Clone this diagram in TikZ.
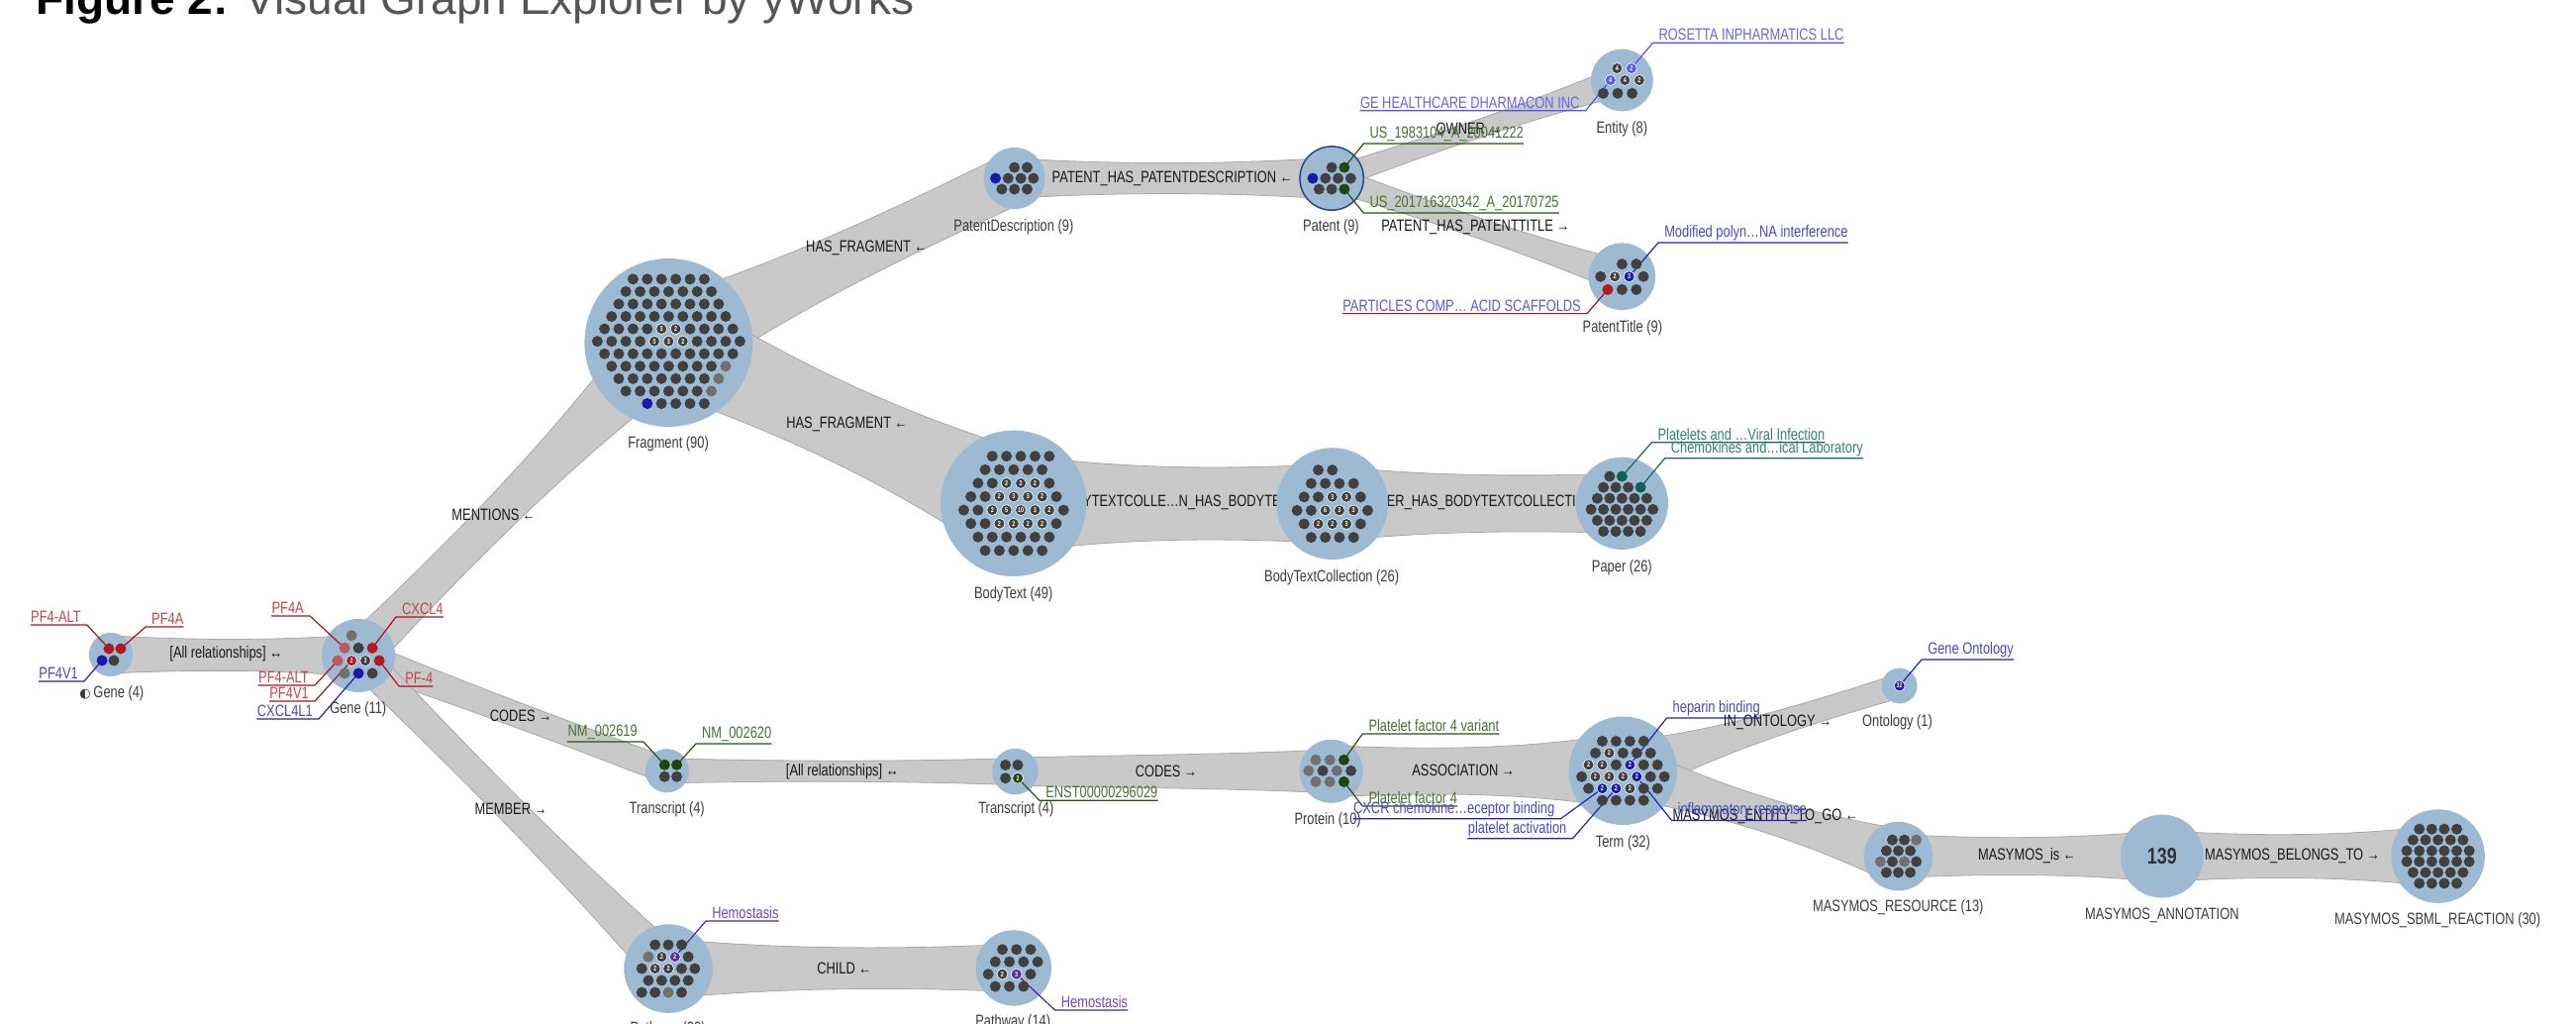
\documentclass[tikz,border=0pt]{standalone}
\usepackage{fontspec}
\setmainfont{Liberation Sans}[FakeStretch=0.78]
\newfontfamily\titlefont{Liberation Sans}
\newfontfamily\symfont{DejaVu Sans}
\usetikzlibrary{calc}
\pgfdeclarelayer{bandlayer}
\pgfdeclarelayer{circlelayer}
\pgfdeclarelayer{linelayer}
\pgfsetlayers{bandlayer,circlelayer,linelayer,main}

\definecolor{nodeblue}{RGB}{157,186,210}
\definecolor{bandgray}{RGB}{201,201,201}
\definecolor{bandedge}{RGB}{168,168,168}
\definecolor{patentedge}{RGB}{40,72,140}
\definecolor{dotdark}{RGB}{64,64,64}
\definecolor{dotgray}{RGB}{112,112,112}
\definecolor{dotred}{RGB}{178,24,28}
\definecolor{dotlred}{RGB}{186,88,92}
\definecolor{dotblue}{RGB}{26,26,170}
\definecolor{dotlblue}{RGB}{92,92,240}
\definecolor{dotgreen}{RGB}{30,70,14}
\definecolor{dotteal}{RGB}{14,96,90}
\definecolor{dotpurple}{RGB}{92,46,166}
\definecolor{redtxt}{RGB}{196,70,74}
\definecolor{redln}{RGB}{168,22,28}
\definecolor{bluetxt}{RGB}{72,72,200}
\definecolor{blueln}{RGB}{35,35,176}
\definecolor{violettxt}{RGB}{96,90,210}
\definecolor{lbtxt}{RGB}{100,100,240}
\definecolor{lbln}{RGB}{82,82,232}
\definecolor{greentxt}{RGB}{74,112,50}
\definecolor{greenln}{RGB}{40,80,20}
\definecolor{tealtxt}{RGB}{50,130,120}
\definecolor{tealln}{RGB}{20,105,95}
\definecolor{purptxt}{RGB}{112,74,190}
\definecolor{purpln}{RGB}{80,36,150}
\definecolor{labeltxt}{RGB}{60,60,60}
\definecolor{edgetxt}{RGB}{25,25,25}
\definecolor{titlegray}{RGB}{85,85,85}

\tikzset{
  nodecirc/.style={circle,fill=nodeblue,inner sep=0pt,minimum size=#1*3.3188pt},
  band/.style={fill=bandgray,draw=bandedge,line width=0.8pt},
  dot/.style={circle,inner sep=0pt,minimum size=11pt,text=white,
    font=\fontsize{7}{7}\selectfont\bfseries},
  dk/.style={fill=dotdark},
  gy/.style={fill=dotgray},
  rd/.style={fill=dotred},
  lr/.style={fill=dotlred},
  bl/.style={fill=dotblue},
  lb/.style={fill=dotlblue},
  gn/.style={fill=dotgreen},
  tl/.style={fill=dotteal},
  nk/.style={fill=dotdark,draw=white,line width=0.6pt},
  nr/.style={fill=dotred,draw=white,line width=0.6pt},
  nb/.style={fill=dotblue,draw=white,line width=0.6pt},
  nlb/.style={fill=dotlblue,draw=white,line width=0.6pt},
  ng/.style={fill=dotgreen,draw=white,line width=0.6pt},
  np/.style={fill=dotpurple,draw=white,line width=0.6pt},
  nlabel/.style={font=\fontsize{16.5}{16.5}\selectfont,text=labeltxt,inner sep=0pt},
  elabel/.style={font=\fontsize{16.5}{16.5}\selectfont,text=edgetxt,inner sep=0pt},
  calltext/.style={font=\fontsize{16.5}{16.5}\selectfont,inner xsep=0pt,inner ysep=2pt},
  callline/.style={line width=1.2pt,line join=round},
  toright/.style={anchor=south west,xshift=6pt},
  toleft/.style={anchor=south east,xshift=-6pt},
}

% one row of small member dots inside a type circle
\newcommand\dotrow[6]{%
  \foreach \s/\l [count=\i] in {#6} {
    \node[dot,\s] (#1\i) at ($(#2.center)+({(#4+\i-1)*#5},#3)$) {\l};
  }%
}

% grey relationship band with a waist between two type circles
\newcommand\band[5]{%
  \pgfmathsetmacro\bandctl{max(0,(#5-(#3+#4)/8)/0.75)}%
  \path[band]
    ($(#1)!#3pt!90:(#2)$)
    .. controls ($($(#1)!0.333!(#2)$)!\bandctl pt!90:(#2)$)
           and ($($(#1)!0.667!(#2)$)!\bandctl pt!90:(#2)$)
    .. ($(#2)!#4pt!-90:(#1)$)
    -- ($(#2)!#4pt!90:(#1)$)
    .. controls ($($(#1)!0.667!(#2)$)!\bandctl pt!-90:(#2)$)
           and ($($(#1)!0.333!(#2)$)!\bandctl pt!-90:(#2)$)
    .. ($(#1)!#3pt!-90:(#2)$)
    -- cycle;
}

% underlined label with a leader line to a member dot
\newcommand\callout[7]{%
  \coordinate (#5-bend) at #4;
  \node[calltext,text=#1,#6] (#5) at (#5-bend) {#7};
  \begin{pgfonlayer}{linelayer}
    \draw[callline,draw=#2] (#3.center) -- (#5-bend) -- (#5.south west) -- (#5.south east);
  \end{pgfonlayer}
}

\begin{document}
\begin{tikzpicture}[x=1.6594pt,y=-1.6594pt]
\useasboundingbox (0,0) rectangle (1568,623);
\begin{pgfonlayer}{bandlayer}
  \fill[white] (0,0) rectangle (1568,623);
\end{pgfonlayer}

% title
\node[anchor=base west,inner sep=0pt,font=\titlefont\fontsize{46}{46}\selectfont] (title)
  at (21.7,9) {\textbf{Figure 2:} \textcolor{titlegray}{Visual Graph Explorer by yWorks}};

% type circles
\begin{pgfonlayer}{circlelayer}
\node[nodecirc=13.3] (g4) at (67.5,398.3) {};
\node[nodecirc=22.3] (g11) at (218.2,398.9) {};
\node[nodecirc=51.2] (frag) at (407,208.5) {};
\node[nodecirc=18.7] (pdesc) at (617.5,108.5) {};
\node[nodecirc=19.4,draw=patentedge,line width=1.5pt] (pat) at (810.6,108.5) {};
\node[nodecirc=18.9] (ent) at (987.3,48.8) {};
\node[nodecirc=20.4] (ptit) at (987.3,168.3) {};
\node[nodecirc=44.4] (body) at (617,306.3) {};
\node[nodecirc=34] (coll) at (811,306.5) {};
\node[nodecirc=28.1] (paper) at (987.3,306.3) {};
\node[nodecirc=13.3] (trA) at (406,469) {};
\node[nodecirc=14] (trB) at (618,469.5) {};
\node[nodecirc=19.3] (prot) at (810.3,469.3) {};
\node[nodecirc=33] (term) at (987.9,469) {};
\node[nodecirc=10.8] (onto) at (1156.2,417.3) {};
\node[nodecirc=21] (mres) at (1155.5,521) {};
\node[nodecirc=25.3,text=black!80,font=\fontsize{23}{23}\selectfont\bfseries] (mann) at (1316,521) {139};
\node[nodecirc=28.5] (sbml) at (1484,521) {};
\node[nodecirc=27] (pwL) at (406.8,589.4) {};
\node[nodecirc=23] (pwR) at (617,589) {};
\end{pgfonlayer}

% type labels
\node[nlabel] (l-g4) at (68,422) {{\symfont\fontsize{13}{13}\selectfont ◐}\,Gene (4)};
\node[nlabel] (l-g11) at (218,431.9) {Gene (11)};
\node[nlabel] (l-frag) at (406.8,270.2) {Fragment (90)};
\node[nlabel] (l-pdesc) at (617,138.2) {PatentDescription (9)};
\node[nlabel] (l-pat) at (810.2,138.2) {Patent (9)};
\node[nlabel] (l-ent) at (987.3,78.3) {Entity (8)};
\node[nlabel] (l-ptit) at (987.6,199.5) {PatentTitle (9)};
\node[nlabel] (l-body) at (616.9,361.6) {BodyText (49)};
\node[nlabel] (l-coll) at (810.6,351.5) {BodyTextCollection (26)};
\node[nlabel] (l-paper) at (987.3,345.5) {Paper (26)};
\node[nlabel] (l-trA) at (406,492.5) {Transcript (4)};
\node[nlabel] (l-trB) at (618.5,492.5) {Transcript (4)};
\node[nlabel] (l-prot) at (808.2,499.2) {Protein (10)};
\node[nlabel] (l-term) at (987.9,513.2) {Term (32)};
\node[nlabel] (l-onto) at (1154.9,439.5) {Ontology (1)};
\node[nlabel] (l-mres) at (1155.4,552.4) {MASYMOS\_RESOURCE (13)};
\node[nlabel] (l-mann) at (1316,556.8) {MASYMOS\_ANNOTATION};
\node[nlabel] (l-sbml) at (1483.7,560) {MASYMOS\_SBML\_REACTION (30)};
\node[nlabel] (l-pwR) at (616.6,622.3) {Pathway (14)};
\node[nlabel] (l-pwL) at (406.5,626.5) {Pathway (20)};

% member dots
\dotrow{g4a}{g4}{-3.6}{-0.17}{7.2}{rd/{},rd/{}}
\dotrow{g4b}{g4}{3.6}{-0.75}{7.2}{bl/{},dk/{}}

\dotrow{g11a}{g11}{-12.2}{-0.5}{8.44}{gy/{}}
\dotrow{g11b}{g11}{-4.6}{-1}{8.44}{lr/{},dk/{},rd/{}}
\dotrow{g11c}{g11}{3.1}{-1.5}{8.44}{lr/{},nr/2,nk/3,rd/{}}
\dotrow{g11d}{g11}{10.8}{-1}{8.44}{gy/{},bl/{},dk/{}}

\dotrow{fra}{frag}{-38.65}{-2.5}{8.68}{dk/{},dk/{},dk/{},dk/{},dk/{},dk/{}}
\dotrow{frb}{frag}{-31.08}{-3}{8.68}{dk/{},dk/{},dk/{},dk/{},dk/{},dk/{},dk/{}}
\dotrow{frc}{frag}{-23.51}{-3.5}{8.68}{dk/{},dk/{},dk/{},dk/{},dk/{},dk/{},dk/{},dk/{}}
\dotrow{frd}{frag}{-15.94}{-4}{8.68}{dk/{},dk/{},dk/{},dk/{},dk/{},dk/{},dk/{},dk/{},dk/{}}
\dotrow{fre}{frag}{-8.37}{-4.5}{8.68}{dk/{},dk/{},dk/{},dk/{},nk/3,nk/2,dk/{},dk/{},dk/{},dk/{}}
\dotrow{frf}{frag}{-0.8}{-5}{8.68}{dk/{},dk/{},dk/{},dk/{},nk/3,nk/3,nk/2,dk/{},dk/{},dk/{},dk/{}}
\dotrow{frg}{frag}{6.77}{-4.5}{8.68}{dk/{},dk/{},dk/{},dk/{},dk/{},dk/{},dk/{},dk/{},dk/{},dk/{}}
\dotrow{frh}{frag}{14.34}{-4}{8.68}{dk/{},dk/{},dk/{},dk/{},dk/{},dk/{},dk/{},dk/{},gy/{}}
\dotrow{fri}{frag}{21.91}{-3.5}{8.68}{dk/{},dk/{},dk/{},dk/{},dk/{},dk/{},dk/{},gy/{}}
\dotrow{frj}{frag}{29.48}{-3}{8.68}{dk/{},dk/{},dk/{},dk/{},dk/{},dk/{},gy/{}}
\dotrow{frk}{frag}{37.05}{-1.5}{8.68}{bl/{},dk/{},dk/{},dk/{},dk/{}}

\dotrow{pda}{pdesc}{-6.6}{0}{7.7}{dk/{},dk/{}}
\dotrow{pdb}{pdesc}{0}{-1.5}{7.7}{bl/{},dk/{},dk/{},dk/{}}
\dotrow{pdc}{pdesc}{6.6}{-1}{7.7}{dk/{},dk/{},dk/{}}

\dotrow{pata}{pat}{-6.6}{0}{7.7}{dk/{},gn/{}}
\dotrow{patb}{pat}{0}{-1.5}{7.7}{bl/{},dk/{},dk/{},dk/{}}
\dotrow{patc}{pat}{6.6}{-1}{7.7}{dk/{},dk/{},gn/{}}

\dotrow{enta}{ent}{-7.2}{-0.35}{8.8}{nk/4,nlb/2}
\dotrow{entb}{ent}{0}{-0.8}{8.8}{nlb/4,nk/4,nk/2}
\dotrow{entc}{ent}{8}{-1.3}{8.8}{dk/{},dk/{},dk/{}}

\dotrow{pta}{ptit}{-7.6}{0}{8.7}{dk/{},dk/{}}
\dotrow{ptb}{ptit}{0}{-1.5}{8.7}{dk/{},nk/2,nb/3,dk/{}}
\dotrow{ptc}{ptit}{7.9}{-1}{8.7}{rd/{},dk/{},dk/{}}

\dotrow{bta}{body}{-28.7}{-1.5}{8.68}{dk/{},dk/{},dk/{},dk/{},dk/{}}
\dotrow{btb}{body}{-20.5}{-2}{8.68}{dk/{},dk/{},dk/{},dk/{},dk/{}}
\dotrow{btc}{body}{-12.3}{-2.5}{8.68}{dk/{},dk/{},nk/2,nk/2,nk/2,dk/{}}
\dotrow{btd}{body}{-4.1}{-3}{8.68}{dk/{},dk/{},nk/2,nk/3,nk/3,nk/2,dk/{}}
\dotrow{bte}{body}{4.1}{-3.5}{8.68}{dk/{},dk/{},nk/2,nk/5,nk/10,nk/3,nk/2,dk/{}}
\dotrow{btf}{body}{12.3}{-3}{8.68}{dk/{},dk/{},nk/2,nk/2,nk/2,nk/2,dk/{}}
\dotrow{btg}{body}{20.5}{-2.5}{8.68}{dk/{},dk/{},dk/{},dk/{},dk/{},dk/{}}
\dotrow{bth}{body}{28.7}{-2}{8.68}{dk/{},dk/{},dk/{},dk/{},dk/{}}

\dotrow{cla}{coll}{-20.5}{-1}{8.6}{dk/{},dk/{}}
\dotrow{clb}{coll}{-12.3}{-1.5}{8.6}{dk/{},dk/{},dk/{},dk/{}}
\dotrow{clc}{coll}{-4.1}{-2}{8.6}{dk/{},dk/{},nk/3,nk/3,dk/{}}
\dotrow{cld}{coll}{4.1}{-2.5}{8.6}{dk/{},dk/{},nk/6,nk/3,nk/3,dk/{}}
\dotrow{cle}{coll}{12.3}{-2}{8.6}{dk/{},nk/2,nk/2,nk/3,dk/{}}
\dotrow{clf}{coll}{20.5}{-1.5}{8.6}{dk/{},dk/{},dk/{},dk/{}}

\dotrow{ppa}{paper}{-16.45}{-1}{7.53}{dk/{},tl/{}}
\dotrow{ppb}{paper}{-9.75}{-1.5}{7.53}{dk/{},dk/{},dk/{},tl/{}}
\dotrow{ppc}{paper}{-3.05}{-2}{7.53}{dk/{},dk/{},dk/{},dk/{},dk/{}}
\dotrow{ppd}{paper}{3.65}{-2.5}{7.53}{dk/{},dk/{},dk/{},dk/{},dk/{},dk/{}}
\dotrow{ppe}{paper}{10.35}{-2}{7.53}{dk/{},dk/{},dk/{},dk/{},dk/{}}
\dotrow{ppf}{paper}{17.05}{-1.5}{7.53}{dk/{},dk/{},dk/{},dk/{}}

\dotrow{xa}{trA}{-3.6}{-0.2}{7.4}{gn/{},gn/{}}
\dotrow{xb}{trA}{3.6}{-0.2}{7.4}{dk/{},dk/{}}

\dotrow{ya}{trB}{-4}{-0.8}{7.5}{dk/{},dk/{}}
\dotrow{yb}{trB}{4}{-0.8}{7.5}{dk/{},ng/2}

\dotrow{pra}{prot}{-6.9}{-1.1}{8.6}{gy/{},gy/{},gn/{}}
\dotrow{prb}{prot}{-0.3}{-1.6}{8.6}{gy/{},dk/{},gy/{},dk/{}}
\dotrow{prc}{prot}{6.4}{-1.1}{8.6}{gy/{},gy/{},gn/{}}

\dotrow{tma}{term}{-18}{-1.5}{8.4}{dk/{},dk/{},dk/{},dk/{}}
\dotrow{tmb}{term}{-10.8}{-2}{8.4}{dk/{},nk/2,dk/{},dk/{},dk/{}}
\dotrow{tmc}{term}{-3.6}{-2.5}{8.4}{nk/2,nk/2,dk/{},nb/2,dk/{},dk/{}}
\dotrow{tmd}{term}{3.6}{-3}{8.4}{dk/{},nk/2,nk/2,nk/2,nb/2,dk/{},dk/{}}
\dotrow{tme}{term}{10.8}{-2.5}{8.4}{dk/{},nb/2,nb/2,nk/2,dk/{},dk/{}}
\dotrow{tmf}{term}{18}{-1.5}{8.4}{dk/{},dk/{},dk/{},dk/{}}

\dotrow{ona}{onto}{0}{0}{1}{nb/32}

\dotrow{mra}{mres}{-9.9}{-0.5}{7.3}{dk/{},dk/{},gy/{}}
\dotrow{mrb}{mres}{-3.3}{-1}{7.3}{dk/{},dk/{},dk/{}}
\dotrow{mrc}{mres}{3.3}{-1.5}{7.3}{gy/{},dk/{},gy/{},dk/{}}
\dotrow{mrd}{mres}{9.9}{-1}{7.3}{dk/{},dk/{},dk/{}}

\dotrow{sba}{sbml}{-16.5}{-1.5}{7.6}{dk/{},dk/{},dk/{},dk/{}}
\dotrow{sbb}{sbml}{-9.9}{-2}{7.6}{dk/{},dk/{},dk/{},dk/{},dk/{}}
\dotrow{sbc}{sbml}{-3.3}{-2.5}{7.6}{dk/{},dk/{},dk/{},dk/{},dk/{},dk/{}}
\dotrow{sbd}{sbml}{3.3}{-2.5}{7.6}{dk/{},dk/{},dk/{},dk/{},dk/{},dk/{}}
\dotrow{sbe}{sbml}{9.9}{-2}{7.6}{dk/{},dk/{},dk/{},dk/{},dk/{}}
\dotrow{sbf}{sbml}{16.5}{-1.5}{7.6}{dk/{},dk/{},dk/{},dk/{}}

\dotrow{pla}{pwL}{-14.5}{-1}{8.07}{dk/{},dk/{},dk/{}}
\dotrow{plb}{pwL}{-7.2}{-1.5}{8.07}{gy/{},nk/2,np/2,dk/{}}
\dotrow{plc}{pwL}{0}{-2}{8.07}{dk/{},nk/2,nk/2,dk/{},dk/{}}
\dotrow{pld}{pwL}{7.2}{-1.5}{8.07}{dk/{},dk/{},dk/{},dk/{}}
\dotrow{ple}{pwL}{14.5}{-2}{8.07}{dk/{},dk/{},gy/{},dk/{}}

\dotrow{qra}{pwR}{-11.25}{-0.8}{8.6}{dk/{},dk/{},dk/{}}
\dotrow{qrb}{pwR}{-3.75}{-1.3}{8.6}{dk/{},dk/{},dk/{},dk/{}}
\dotrow{qrc}{pwR}{3.75}{-1.8}{8.6}{dk/{},nk/2,np/3,dk/{}}
\dotrow{qrd}{pwR}{11.25}{-1.3}{8.6}{dk/{},dk/{},dk/{}}

% relationship bands and their labels
\begin{pgfonlayer}{bandlayer}
\band{g4}{g11}{19}{21}{16}
\band{g11}{frag}{21}{38}{19}
\band{g11}{trA}{16}{13}{12.5}
\band{g11}{pwL}{17}{22}{14}
\band{frag}{pdesc}{45}{26}{27}
\band{frag}{body}{50}{55}{39}
\band{pdesc}{pat}{20}{21}{15.5}
\band{pat}{ent}{12}{15}{9}
\band{pat}{ptit}{13}{16}{10}
\band{body}{coll}{50}{40}{37}
\band{coll}{paper}{38}{30}{29}
\band{trA}{trB}{12.5}{13.5}{10.5}
\band{trB}{prot}{14}{22}{17}
\band{prot}{term}{26}{38}{24}
\band{term}{onto}{30}{12}{13}
\band{term}{mres}{28}{28}{17}
\band{mres}{mann}{22}{26}{19}
\band{mann}{sbml}{26}{31}{22}
\band{pwL}{pwR}{30}{24}{21}

\node[elabel] (e1) at (137.6,398.1) {[All relationships] ↔};
\node[elabel] (e2) at (300.5,313) {MENTIONS ←};
\node[elabel] (e3) at (317,435.5) {CODES →};
\node[elabel] (e4) at (311,492.4) {MEMBER →};
\node[elabel] (e5) at (527.5,150.7) {HAS\_FRAGMENT ←};
\node[elabel] (e6) at (515.5,258) {HAS\_FRAGMENT ←};
\node[elabel] (e7) at (713.6,108.5) {PATENT\_HAS\_PATENTDESCRIPTION ←};
\node[elabel] (e8) at (894,78) {OWNER →};
\node[elabel] (e9) at (898.1,138.2) {PATENT\_HAS\_PATENTTITLE →};
\node[elabel] (e10) at (721,305.5) {BODYTEXTCOLLE…N\_HAS\_BODYTEXT ←};
\node[elabel] (e11) at (905,306) {PAPER\_HAS\_BODYTEXTCOLLECTION →};
\node[elabel] (e12) at (512.7,469.5) {[All relationships] ↔};
\node[elabel] (e13) at (709.8,469.5) {CODES →};
\node[elabel] (e14) at (890.7,469) {ASSOCIATION →};
\node[elabel] (e15) at (1082,439.5) {IN\_ONTOLOGY →};
\node[elabel] (e16) at (1074.6,496.8) {MASYMOS\_ENTITY\_TO\_GO ←};
\node[elabel] (e17) at (1233.8,520.7) {MASYMOS\_is ←};
\node[elabel] (e18) at (1395.3,520.7) {MASYMOS\_BELONGS\_TO →};
\node[elabel] (e19) at (513.9,589.2) {CHILD ←};
\end{pgfonlayer}

% member callouts
\callout{redtxt}{redln}{g4a1}{(53,380.3)}{c-g4-1}{toleft}{PF4-ALT}
\callout{redtxt}{redln}{g4a2}{(88.6,381.5)}{c-g4-2}{toright}{PF4A}
\callout{bluetxt}{blueln}{g4b1}{(51.2,414.6)}{c-g4-3}{toleft}{PF4V1}
\callout{redtxt}{redln}{g11b1}{(188.6,374.8)}{c-g11-1}{toleft}{PF4A}
\callout{redtxt}{redln}{g11b3}{(241,375.4)}{c-g11-2}{toright}{CXCL4}
\callout{redtxt}{redln}{g11c1}{(191.6,417)}{c-g11-3}{toleft}{PF4-ALT}
\callout{redtxt}{redln}{g11c2}{(191.6,426.7)}{c-g11-4}{toleft}{PF4V1}
\callout{bluetxt}{blueln}{g11d2}{(194,437.5)}{c-g11-5}{toleft}{CXCL4L1}
\callout{redtxt}{redln}{g11c4}{(242.9,417.6)}{c-g11-6}{toright}{PF-4}
\callout{lbtxt}{lbln}{enta2}{(1006,26.1)}{c-ent-1}{toright}{ROSETTA INPHARMATICS LLC}
\callout{lbtxt}{lbln}{entb1}{(965.2,67.3)}{c-ent-2}{toleft}{GE HEALTHCARE DHARMACON INC}
\callout{greentxt}{greenln}{pata2}{(830,87.4)}{c-pat-1}{toright}{US\_1983104\_A\_20041222}
\callout{greentxt}{greenln}{patc3}{(830,129.6)}{c-pat-2}{toright}{US\_201716320342\_A\_20170725}
\callout{bluetxt}{blueln}{ptb3}{(1009.4,147.6)}{c-pt-1}{toright}{Modified polyn…NA interference}
\callout{violettxt}{redln}{ptc1}{(966,190.8)}{c-pt-2}{toleft}{PARTICLES COMP… ACID SCAFFOLDS}
\callout{tealtxt}{tealln}{ppa2}{(1005.4,269.2)}{c-pp-1}{toright}{Platelets and …Viral Infection}
\callout{tealtxt}{tealln}{ppb4}{(1013.4,278.8)}{c-pp-2}{toright}{Chemokines and…ical Laboratory}
\callout{greentxt}{greenln}{xa1}{(391.7,451.4)}{c-tra-1}{toleft}{NM\_002619}
\callout{greentxt}{greenln}{xa2}{(423.6,452.6)}{c-tra-2}{toright}{NM\_002620}
\callout{greentxt}{greenln}{yb2}{(632.8,487.1)}{c-trb-1}{toright}{ENST00000296029}
\callout{greentxt}{greenln}{pra3}{(829.4,446.5)}{c-pr-1}{toright}{Platelet factor 4 variant}
\callout{greentxt}{greenln}{prc3}{(829.4,490.5)}{c-pr-2}{toright}{Platelet factor 4}
\callout{bluetxt}{blueln}{tmc4}{(1014.5,436.9)}{c-tm-1}{toright}{heparin binding}
\callout{bluetxt}{blueln}{tmd5}{(1017.5,499.2)}{c-tm-2}{toright}{inflammatory response}
\callout{bluetxt}{blueln}{tme2}{(950,498.2)}{c-tm-3}{toleft}{CXCR chemokine…eceptor binding}
\callout{bluetxt}{blueln}{tme3}{(957.3,510.2)}{c-tm-4}{toleft}{platelet activation}
\callout{bluetxt}{blueln}{ona1}{(1169.7,401.3)}{c-on-1}{toright}{Gene Ontology}
\callout{purptxt}{purpln}{plb3}{(429.7,560.4)}{c-pl-1}{toright}{Hemostasis}
\callout{purptxt}{purpln}{qrc3}{(642.2,614.7)}{c-qr-1}{toright}{Hemostasis}
\end{tikzpicture}
\end{document}
